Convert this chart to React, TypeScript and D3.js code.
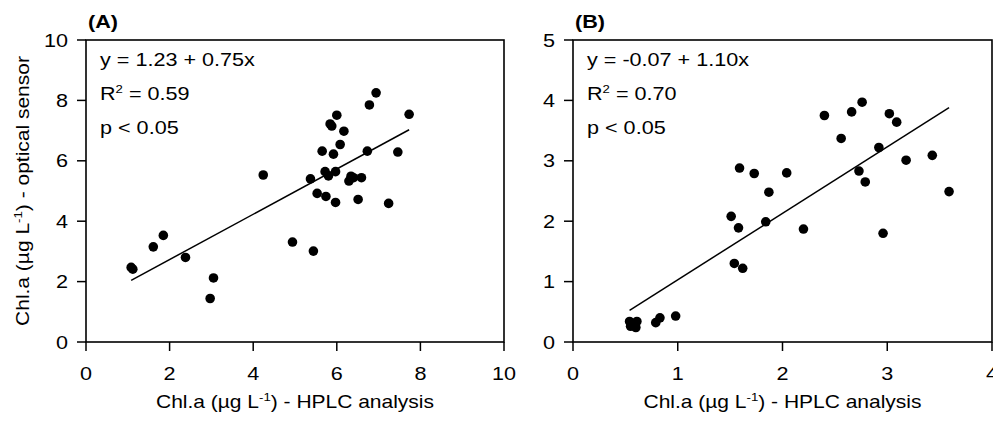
import React from 'react'
import * as d3 from 'd3'

const W = 993
const H = 423
const FONT = '"Liberation Sans", Arial, sans-serif'
const SX = 1.2 // the source glyphs are wider than Arial

// panel A: HPLC vs optical sensor
const hplcA = [1.08, 1.12, 1.61, 1.85, 2.38, 2.97, 3.05, 4.24, 4.94, 5.44, 5.37, 5.53, 5.74, 5.65, 5.72, 5.80, 5.97, 5.92, 5.84, 5.88, 6.00, 6.17, 6.08, 5.97, 6.29, 6.34, 6.40, 6.59, 6.51, 6.73, 6.78, 6.94, 7.24, 7.46, 7.73]
const sensorA = [2.47, 2.41, 3.15, 3.53, 2.80, 1.44, 2.12, 5.53, 3.31, 3.01, 5.40, 4.92, 4.82, 6.32, 5.64, 5.50, 5.64, 6.22, 7.22, 7.15, 7.51, 6.98, 6.54, 4.62, 5.33, 5.49, 5.44, 5.44, 4.72, 6.32, 7.85, 8.25, 4.59, 6.29, 7.54]

// panel B
const hplcB = [0.54, 0.61, 0.55, 0.60, 0.79, 0.83, 0.98, 1.51, 1.58, 1.54, 1.62, 1.59, 1.73, 1.87, 1.84, 2.04, 2.20, 2.40, 2.56, 2.66, 2.76, 2.73, 2.79, 2.92, 2.96, 3.02, 3.09, 3.18, 3.43, 3.59]
const sensorB = [0.34, 0.34, 0.26, 0.24, 0.32, 0.40, 0.43, 2.08, 1.89, 1.30, 1.22, 2.88, 2.79, 2.48, 1.99, 2.80, 1.87, 3.75, 3.37, 3.81, 3.97, 2.83, 2.65, 3.22, 1.80, 3.78, 3.64, 3.01, 3.09, 2.49]

const xTicksA = [0, 2, 4, 6, 8, 10]
const yTicksA = [0, 2, 4, 6, 8, 10]
const xTicksB = [0, 1, 2, 3, 4]
const yTicksB = [0, 1, 2, 3, 4, 5]

const fitA = { a: 1.23, b: 0.75, r2: '0.59', eq: 'y = 1.23 + 0.75x' }
const fitB = { a: -0.07, b: 1.10, r2: '0.70', eq: 'y = -0.07 + 1.10x' }

function T({ x, y, anchor = 'start', size = 17.5, weight = 'normal', rotate = 0, children }: any) {
  return (
    <text
      transform={`translate(${x},${y}) rotate(${rotate}) scale(${SX},1)`}
      textAnchor={anchor}
      fontSize={size}
      fontWeight={weight}
      fontFamily={FONT}
      fill="#000"
    >
      {children}
    </text>
  )
}

const unit = (
  <>
    Chl.a (µg L<tspan fontSize={11} dy={-7}>-1</tspan><tspan dy={7}>)</tspan>
  </>
)

function Panel({ left, right, top, bottom, xs, ys, xTicks, yTicks, fit, tag, yTitle }: any) {
  const x = d3.scaleLinear().domain(d3.extent(xTicks) as any).range([left, right])
  const y = d3.scaleLinear().domain(d3.extent(yTicks) as any).range([bottom, top])
  const [fx0, fx1] = d3.extent(xs) as [number, number]
  const line = d3.line<number>().x(d => x(d)).y(d => y(fit.a + fit.b * d))
  const tick = 9

  return (
    <g>
      <rect x={left} y={top} width={right - left} height={bottom - top} fill="none" stroke="#000" strokeWidth={1.6} />
      {xTicks.map((t: number) => (
        <g key={'x' + t}>
          <line x1={x(t)} x2={x(t)} y1={bottom} y2={bottom + tick} stroke="#000" strokeWidth={1.5} />
          <T x={x(t)} y={bottom + 38} anchor="middle" size={18}>{t}</T>
        </g>
      ))}
      {yTicks.map((t: number) => (
        <g key={'y' + t}>
          <line x1={left - tick} x2={left} y1={y(t)} y2={y(t)} stroke="#000" strokeWidth={1.5} />
          <T x={left - tick - 9} y={y(t) + 6.5} anchor="end" size={18}>{t}</T>
        </g>
      ))}
      <path d={line([fx0, fx1]) || ''} fill="none" stroke="#000" strokeWidth={1.5} />
      {xs.map((v: number, i: number) => (
        <circle key={i} cx={x(v)} cy={y(ys[i])} r={4.8} fill="#000" />
      ))}
      <T x={left + 2} y={28} size={18} weight="bold">{tag}</T>
      <T x={left + 14} y={66} size={18}>{fit.eq}</T>
      <T x={left + 14} y={100} size={18}>R<tspan fontSize={11} dy={-7}>2</tspan><tspan dy={7}> = {fit.r2}</tspan></T>
      <T x={left + 14} y={134} size={18}>p &lt; 0.05</T>
      <T x={(left + right) / 2} y={408} anchor="middle" size={17.5}>{unit} - HPLC analysis</T>
      {yTitle && (
        <T x={29} y={(top + bottom) / 2} anchor="middle" size={17.5} rotate={-90}>{unit} - optical sensor</T>
      )}
    </g>
  )
}

export default function App() {
  return (
    <svg width={W} height={H} style={{ position: 'absolute', left: 0, top: 0, background: '#fff' }}>
      <rect width={W} height={H} fill="#fff" />
      <Panel left={86} right={504} top={40} bottom={342} xs={hplcA} ys={sensorA}
        xTicks={xTicksA} yTicks={yTicksA} fit={fitA} tag="(A)" yTitle />
      <Panel left={573} right={992} top={40} bottom={342} xs={hplcB} ys={sensorB}
        xTicks={xTicksB} yTicks={yTicksB} fit={fitB} tag="(B)" />
    </svg>
  )
}
